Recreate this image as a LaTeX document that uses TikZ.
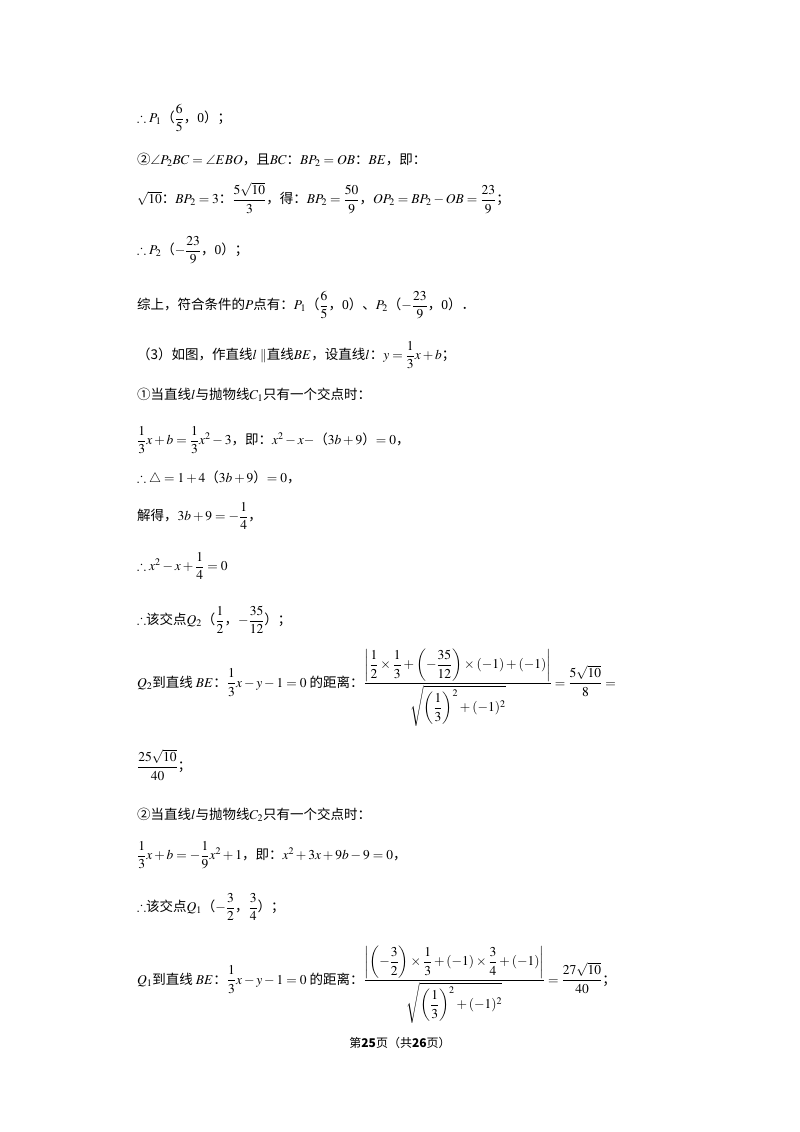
\documentclass[tikz,border=0pt]{standalone}
\usepackage{amsmath,amssymb}
\usepackage{mathptmx}
\usepackage[no-math]{fontspec}
\setmainfont{Liberation Serif}
\newfontfamily\zhf{Noto Sans CJK SC}
\newcommand{\zh}[1]{{\zhf #1}}
\begin{document}
\begin{tikzpicture}[x=1pt,y=-1pt,every node/.style={inner sep=0pt},
  ln/.style={anchor=west,font=\fontsize{13.5}{15}\selectfont}]
\useasboundingbox (0,0) rectangle (800,1132);
\node[ln] (l1) at (137,118) {$\therefore P_1$\zh{（}$\dfrac{6}{5}$\zh{，}0\zh{）；}};
\node[ln] (l2) at (137,160) {\zh{②}$\angle P_2BC=\angle EBO$\zh{，且}$BC$\zh{：}$BP_2=OB$\zh{：}$BE$\zh{，即：}};
\node[ln] (l3) at (137,198) {$\sqrt{10}$\zh{：}$BP_2=3$\zh{：}$\dfrac{5\sqrt{10}}{3}$\zh{，得：}$BP_2=\dfrac{50}{9}$\zh{，}$OP_2=BP_2-OB=\dfrac{23}{9}$\zh{；}};
\node[ln] (l4) at (137,250) {$\therefore P_2$\zh{（}$-\dfrac{23}{9}$\zh{，}0\zh{）；}};
\node[ln] (l5) at (137,305) {\zh{综上，符合条件的}$P$\zh{点有：}$P_1$\zh{（}$\dfrac{6}{5}$\zh{，}0\zh{）、}$P_2$\zh{（}$-\dfrac{23}{9}$\zh{，}0\zh{）．}};
\node[ln] (l6) at (137,355) {\zh{（3）如图，作直线}$l\parallel$\zh{直线}$BE$\zh{，设直线}$l$\zh{：}$y=\dfrac{1}{3}x+b$\zh{；}};
\node[ln] (l7) at (137,395) {\zh{①当直线}$l$\zh{与抛物线}$C_1$\zh{只有一个交点时：}};
\node[ln] (l8) at (137,440) {$\dfrac{1}{3}x+b=\dfrac{1}{3}x^2-3$\zh{，即：}$x^2-x-$\zh{（}$3b+9$\zh{）}$=0$\zh{，}};
\node[ln] (l9) at (137,478) {$\therefore\triangle=1+4$\zh{（}$3b+9$\zh{）}$=0$\zh{，}};
\node[ln] (l10) at (137,516) {\zh{解得，}$3b+9=-\dfrac{1}{4}$\zh{，}};
\node[ln] (l11) at (137,566) {$\therefore x^2-x+\dfrac{1}{4}=0$};
\node[ln] (l12) at (137,620) {$\therefore$\zh{该交点}$Q_2$\zh{（}$\dfrac{1}{2}$\zh{，}$-\dfrac{35}{12}$\zh{）；}};
\node[ln] (l13) at (137,688) {$Q_2$\zh{到直线 }$BE$\zh{：}$\dfrac{1}{3}x-y-1=0$\zh{ 的距离：}$\dfrac{\left|\dfrac{1}{2}\times\dfrac{1}{3}+\left(-\dfrac{35}{12}\right)\times(-1)+(-1)\right|}{\sqrt{\left(\dfrac{1}{3}\right)^2+(-1)^2}}=\dfrac{5\sqrt{10}}{8}=$};
\node[ln] (l14) at (137,765) {$\dfrac{25\sqrt{10}}{40}$\zh{；}};
\node[ln] (l15) at (137,815) {\zh{②当直线}$l$\zh{与抛物线}$C_2$\zh{只有一个交点时：}};
\node[ln] (l16) at (137,855) {$\dfrac{1}{3}x+b=-\dfrac{1}{9}x^2+1$\zh{，即：}$x^2+3x+9b-9=0$\zh{，}};
\node[ln] (l17) at (137,907) {$\therefore$\zh{该交点}$Q_1$\zh{（}$-\dfrac{3}{2}$\zh{，}$\dfrac{3}{4}$\zh{）；}};
\node[ln] (l18) at (137,985) {$Q_1$\zh{到直线 }$BE$\zh{：}$\dfrac{1}{3}x-y-1=0$\zh{ 的距离：}$\dfrac{\left|\left(-\dfrac{3}{2}\right)\times\dfrac{1}{3}+(-1)\times\dfrac{3}{4}+(-1)\right|}{\sqrt{\left(\dfrac{1}{3}\right)^2+(-1)^2}}=\dfrac{27\sqrt{10}}{40}$\zh{；}};
\node[font=\fontsize{12}{14}\selectfont] (ft) at (400,1043) {\zh{第\textbf{25}页（共\textbf{26}页）}};
\end{tikzpicture}
\end{document}
